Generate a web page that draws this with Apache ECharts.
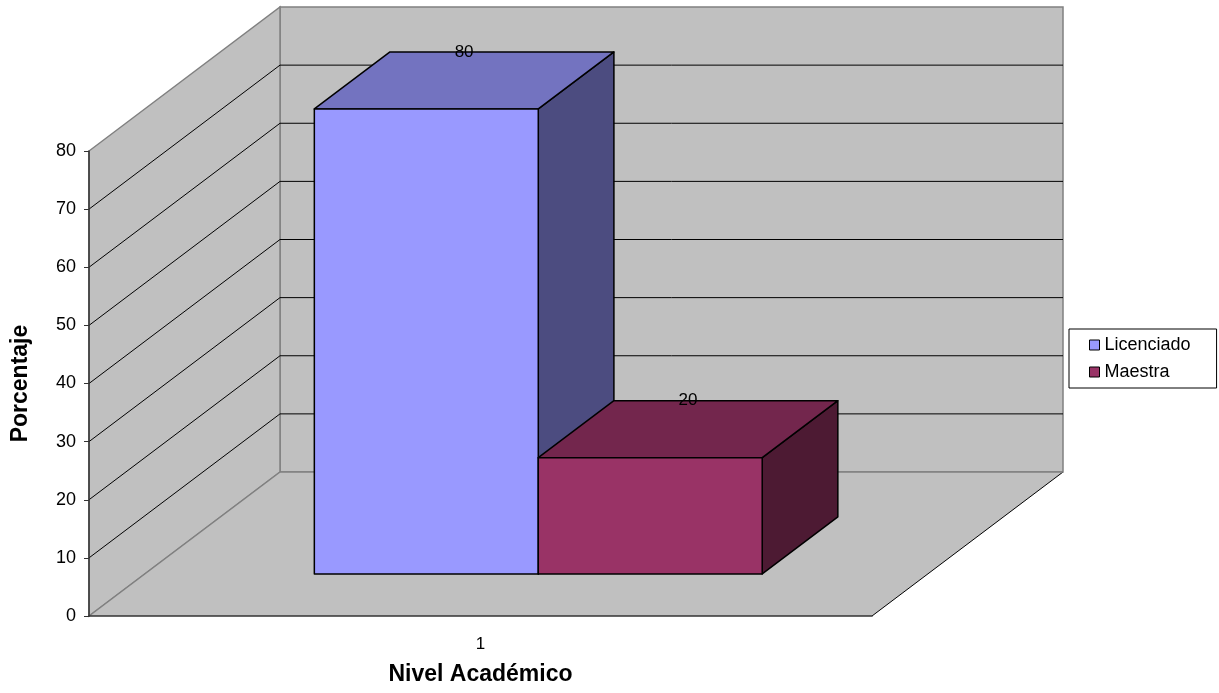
<!DOCTYPE html>
<html lang="es">
<head>
<meta charset="utf-8" />
<title>Nivel Académico</title>
<script src="https://cdn.jsdelivr.net/npm/echarts@6/dist/echarts.min.js"></script>
<style>
  html, body { margin: 0; padding: 0; background: #FFFFFF; }
  #chart { width: 1219px; height: 693px; }
</style>
</head>
<body>
<div id="chart"></div>
<script>
  // datos
  var categories = ['1'];
  var seriesNames = ['Licenciado', 'Maestra'];
  var licenciado = [80];
  var maestra = [20];
  var yTicks = [0, 10, 20, 30, 40, 50, 60, 70, 80];

  // estilo 3D (pixeles de profundidad total del piso)
  var DX = 191, DY = -144;
  var D0 = 0.292, D1 = 0.688;   // profundidad de las barras
  var BAR_W = 0.286;            // ancho de barra / ancho de categoria
  var SHIFT = 2;                // pequeño corrimiento del par de barras
  var FONT = '"Liberation Sans", Arial, sans-serif';
  var colors = {
    Licenciado: { front: '#9999FF', top: '#7373C0', side: '#4C4C80' },
    Maestra:    { front: '#993366', top: '#73264D', side: '#4D1A33' }
  };

  function walls(params, api) {
    var cs = params.coordSys;
    var x0 = cs.x, x1 = cs.x + cs.width;
    var yb = cs.y + cs.height, yt = cs.y;
    var gray = '#808080';
    var kids = [];
    // pared del fondo
    kids.push({ type: 'polygon', shape: { points: [[x0 + DX, yt + DY], [x1 + DX, yt + DY], [x1 + DX, yb + DY], [x0 + DX, yb + DY]] },
      style: { fill: '#C0C0C0', stroke: gray, lineWidth: 1.5 } });
    // pared izquierda
    kids.push({ type: 'polygon', shape: { points: [[x0, yb], [x0, yt], [x0 + DX, yt + DY], [x0 + DX, yb + DY]] },
      style: { fill: '#C0C0C0', stroke: gray, lineWidth: 1.5 } });
    // piso
    kids.push({ type: 'polygon', shape: { points: [[x0, yb], [x1, yb], [x1 + DX, yb + DY], [x0 + DX, yb + DY]] },
      style: { fill: '#C0C0C0', stroke: null } });
    kids.push({ type: 'line', shape: { x1: x1, y1: yb, x2: x1 + DX, y2: yb + DY }, style: { stroke: '#000', lineWidth: 1 } });
    kids.push({ type: 'line', shape: { x1: x0 + DX, y1: yb + DY, x2: x1 + DX, y2: yb + DY }, style: { stroke: gray, lineWidth: 1.5 } });
    kids.push({ type: 'line', shape: { x1: x0, y1: yb, x2: x0 + DX, y2: yb + DY }, style: { stroke: gray, lineWidth: 1.5 } });
    // lineas de division
    yTicks.forEach(function (v, i) {
      if (i === 0 || i === yTicks.length - 1) return;
      var y = api.coord([0, v])[1];
      kids.push({ type: 'line', shape: { x1: x0, y1: y, x2: x0 + DX, y2: y + DY }, style: { stroke: '#000', lineWidth: 1 } });
      kids.push({ type: 'line', shape: { x1: x0 + DX, y1: y + DY, x2: x1 + DX, y2: y + DY }, style: { stroke: '#000', lineWidth: 1 } });
    });
    return { type: 'group', children: kids };
  }

  function bar3d(idx) {
    return function (params, api) {
      var c = colors[seriesNames[idx]];
      var band = api.size([1, 0])[0];
      var center = api.coord([api.value(0), 0])[0] + SHIFT;
      var w = band * BAR_W;
      var xl = center - w + idx * w, xr = xl + w;
      var yt = api.coord([api.value(0), api.value(1)])[1];
      var yb = api.coord([api.value(0), 0])[1];
      var ax = D0 * DX, ay = D0 * DY, bx = D1 * DX, by = D1 * DY;
      var st = { stroke: '#000', lineWidth: 1.5, lineJoin: 'round' };
      return { type: 'group', children: [
        { type: 'polygon', shape: { points: [[xr + ax, yb + ay], [xr + bx, yb + by], [xr + bx, yt + by], [xr + ax, yt + ay]] },
          style: Object.assign({ fill: c.side }, st) },
        { type: 'polygon', shape: { points: [[xl + ax, yt + ay], [xr + ax, yt + ay], [xr + bx, yt + by], [xl + bx, yt + by]] },
          style: Object.assign({ fill: c.top }, st) },
        { type: 'polygon', shape: { points: [[xl + ax, yb + ay], [xr + ax, yb + ay], [xr + ax, yt + ay], [xl + ax, yt + ay]] },
          style: Object.assign({ fill: c.front }, st) },
        { type: 'text', style: { text: String(api.value(1)), x: (xl + xr) / 2 + (D0 + D1) / 2 * DX, y: yt + by,
          align: 'center', verticalAlign: 'middle', fill: '#000', font: '17px ' + FONT } }
      ] };
    };
  }

  var chart = echarts.init(document.getElementById('chart'));
  chart.setOption({
    animation: false,
    backgroundColor: '#FFFFFF',
    textStyle: { fontFamily: FONT },
    grid: { left: 89, right: 347, top: 151, bottom: 77 },
    legend: {
      data: seriesNames, orient: 'vertical', left: 1069, top: 329,
      icon: 'rect', itemWidth: 10, itemHeight: 10, itemGap: 9,
      padding: [7, 26, 7, 20],
      borderColor: '#000', borderWidth: 1,
      itemStyle: { borderColor: '#000', borderWidth: 1 },
      textStyle: { fontSize: 18, color: '#000', fontFamily: FONT, lineHeight: 18 }
    },
    xAxis: {
      type: 'category', data: categories, z: 5,
      name: 'Nivel Académico', nameLocation: 'middle', nameGap: 47,
      nameTextStyle: { fontSize: 23, fontWeight: 'bold', color: '#000', fontFamily: FONT },
      axisLine: { lineStyle: { color: '#333', width: 1.5 } },
      axisTick: { length: 12, lineStyle: { color: '#808080' } },
      axisLabel: { margin: 20, fontSize: 17, color: '#000', fontFamily: FONT }
    },
    yAxis: {
      type: 'value', min: 0, max: 80, interval: 10, z: 5,
      name: 'Porcentaje', nameLocation: 'middle', nameRotate: 90, nameGap: 57,
      nameTextStyle: { fontSize: 23, fontWeight: 'bold', color: '#000', fontFamily: FONT },
      axisLine: { show: true, lineStyle: { color: '#333', width: 1.5 } },
      axisTick: { show: true, length: 5, lineStyle: { color: '#333' } },
      axisLabel: { margin: 13, fontSize: 18, color: '#000', fontFamily: FONT },
      splitLine: { show: false }
    },
    series: [
      { type: 'custom', name: 'paredes', silent: true, z: 1, clip: false, renderItem: walls, data: [[0, 0]] },
      { type: 'custom', name: seriesNames[0], z: 2, clip: false, renderItem: bar3d(0),
        itemStyle: { color: colors.Licenciado.front },
        data: licenciado.map(function (v, i) { return [i, v]; }) },
      { type: 'custom', name: seriesNames[1], z: 3, clip: false, renderItem: bar3d(1),
        itemStyle: { color: colors.Maestra.front },
        data: maestra.map(function (v, i) { return [i, v]; }) }
    ]
  });
  window.addEventListener('resize', function () { chart.resize(); });
</script>
</body>
</html>
